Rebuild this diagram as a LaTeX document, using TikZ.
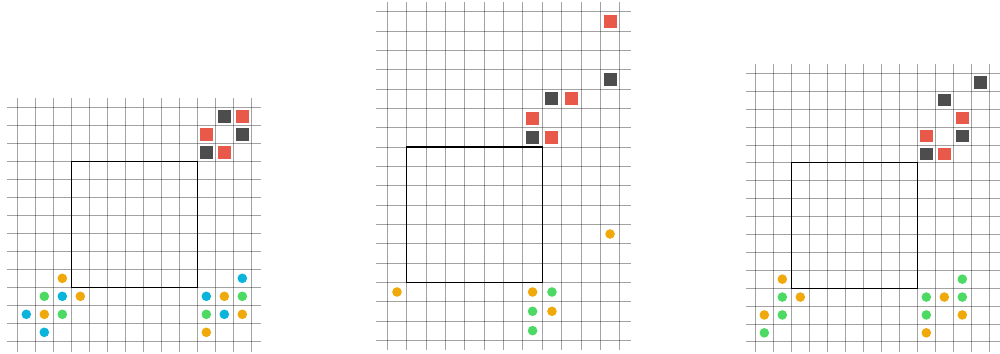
\documentclass[tikz,border=0pt]{standalone}
\definecolor{myred}{RGB}{232,89,74}
\definecolor{mydark}{RGB}{77,77,77}
\definecolor{myorange}{RGB}{239,169,11}
\definecolor{mygreen}{RGB}{76,217,100}
\definecolor{myblue}{RGB}{11,180,218}
\tikzset{
  gridline/.style={draw=black, opacity=0.36, line width=0.8pt},
  frame/.style={draw=black, line width=1.2pt},
  sqbase/.style={rectangle, inner sep=0pt, minimum size=12.5pt, draw=none},
  sqR/.style={sqbase, fill=myred},
  sqD/.style={sqbase, fill=mydark},
  dotbase/.style={circle, inner sep=0pt, minimum size=9.6pt, draw=none},
  dotO/.style={dotbase, fill=myorange},
  dotG/.style={dotbase, fill=mygreen},
  dotB/.style={dotbase, fill=myblue},
}
\begin{document}
\begin{tikzpicture}[x=1pt,y=-1pt]
\useasboundingbox (0,0) rectangle (1000,353);
% ---------------- grid 1 ----------------
\begin{scope}[shift={(17.3pt,-107.3pt)}, x=18pt, y=-18pt]
  \foreach \k in {0,...,13} {
    \draw[gridline] (\k,-0.5) -- (\k,13.6);
    \draw[gridline] (-0.56,\k) -- (13.52,\k);
  }
  \draw[frame] (3,3) rectangle (10,10);
  \foreach \c/\r in {11/0,12/1,10/2} \node[sqD, name=g1d\c-\r] at (\c+0.5,\r+0.5) {};
  \foreach \c/\r in {12/0,10/1,11/2} \node[sqR, name=g1r\c-\r] at (\c+0.5,\r+0.5) {};
  \foreach \c/\r in {2/9,3/10,1/11,11/10,12/11,10/12} \node[dotO, name=g1o\c-\r] at (\c+0.5,\r+0.5) {};
  \foreach \c/\r in {1/10,2/11,12/10,10/11} \node[dotG, name=g1g\c-\r] at (\c+0.5,\r+0.5) {};
  \foreach \c/\r in {2/10,0/11,1/12,12/9,10/10,11/11} \node[dotB, name=g1b\c-\r] at (\c+0.5,\r+0.5) {};
\end{scope}
% ---------------- grid 2 ----------------
\begin{scope}[shift={(387.3pt,-11.7pt)}, x=19.37pt, y=-19.33pt]
  \foreach \k in {0,...,12} \draw[gridline] (\k,-0.5) -- (\k,17.5);
  \foreach \k in {0,...,17} \draw[gridline] (-0.58,\k) -- (12.57,\k);
  \draw[frame] (1,7) rectangle (8,14);
  \foreach \c/\r in {11/3,8/4,7/6} \node[sqD, minimum size=13pt, name=g2d\c-\r] at (\c+0.5,\r+0.5) {};
  \foreach \c/\r in {11/0,9/4,7/5,8/6} \node[sqR, minimum size=13pt, name=g2r\c-\r] at (\c+0.5,\r+0.5) {};
  \foreach \c/\r in {11/11,0/14,7/14,8/15} \node[dotO, name=g2o\c-\r] at (\c+0.5,\r+0.5) {};
  \foreach \c/\r in {8/14,7/15,7/16} \node[dotG, name=g2g\c-\r] at (\c+0.5,\r+0.5) {};
\end{scope}
% ---------------- grid 3 ----------------
\begin{scope}[shift={(755.3pt,-73.3pt)}, x=18pt, y=-17.9pt]
  \foreach \k in {0,...,13} \draw[gridline] (\k,-0.52) -- (\k,15.55);
  \foreach \k in {0,...,15} \draw[gridline] (-0.52,\k) -- (13.6,\k);
  \draw[frame] (2,5) rectangle (9,12);
  \foreach \c/\r in {12/0,10/1,11/3,9/4} \node[sqD, name=g3d\c-\r] at (\c+0.5,\r+0.5) {};
  \foreach \c/\r in {11/2,9/3,10/4} \node[sqR, name=g3r\c-\r] at (\c+0.5,\r+0.5) {};
  \foreach \c/\r in {1/11,2/12,0/13,10/12,11/13,9/14} \node[dotO, name=g3o\c-\r] at (\c+0.5,\r+0.5) {};
  \foreach \c/\r in {1/12,1/13,0/14,11/11,9/12,11/12,9/13} \node[dotG, name=g3g\c-\r] at (\c+0.5,\r+0.5) {};
\end{scope}
\end{tikzpicture}
\end{document}
